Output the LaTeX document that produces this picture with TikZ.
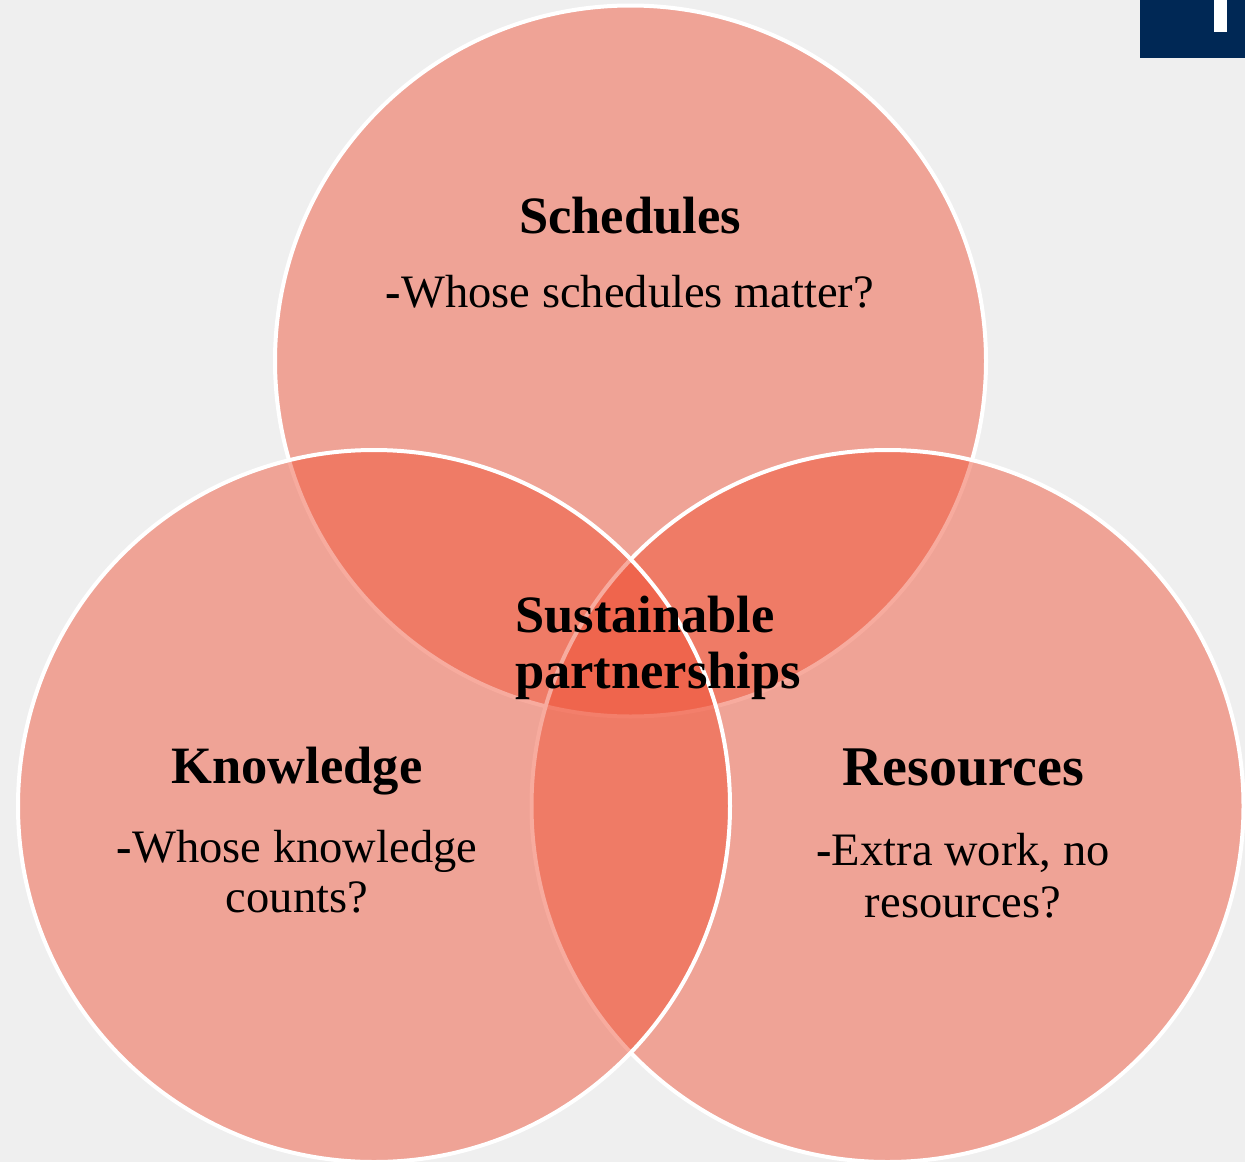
\documentclass[tikz,border=0pt]{standalone}
\usepackage{fontspec}
\setmainfont{Liberation Serif}
\definecolor{bgc}{RGB}{239,239,239}
\definecolor{vennc}{RGB}{239,78,50}
\definecolor{navy}{RGB}{0,40,85}
\tikzset{
  venn/.style={fill=vennc, fill opacity=0.47, draw=white, line width=4pt},
  title/.style={font=\fontsize{52.5}{56}\selectfont\bfseries, anchor=base, inner sep=0pt, align=center},
  sub/.style={font=\fontsize{46.5}{51}\selectfont, anchor=base, inner sep=0pt, align=center},
}
\begin{document}
\begin{tikzpicture}[x=1pt,y=-1pt]
\fill[bgc] (0,0) rectangle (1245,1162);
\useasboundingbox (0,0) rectangle (1245,1162);
\fill[navy] (1140,0) rectangle (1245,58);
\fill[white] (1214,0) rectangle (1227,32);
\path[venn] (630.5,361) circle[radius=355.5];
\path[venn] (887.5,806) circle[radius=356];
\path[venn] (374,806) circle[radius=356];
\node[title] (sch) at (630,233) {Schedules};
\node[sub] (schq) at (630,307) {\textbf{-}Whose schedules matter?};
\node[title] (kno) at (297,783) {Knowledge};
\node[sub, font=\fontsize{46.5}{50}\selectfont] (knoq) at (297,912) {\textbf{-}Whose knowledge\\counts?};
\node[title, font=\fontsize{56}{60}\selectfont\bfseries] (res) at (963,785) {Resources};
\node[sub, font=\fontsize{46.5}{52}\selectfont] (resq) at (963,917) {\textbf{-}Extra work, no\\resources?};
\node[title, anchor=base west, align=left] (sus) at (515,688) {Sustainable\\partnerships};
\end{tikzpicture}
\end{document}
